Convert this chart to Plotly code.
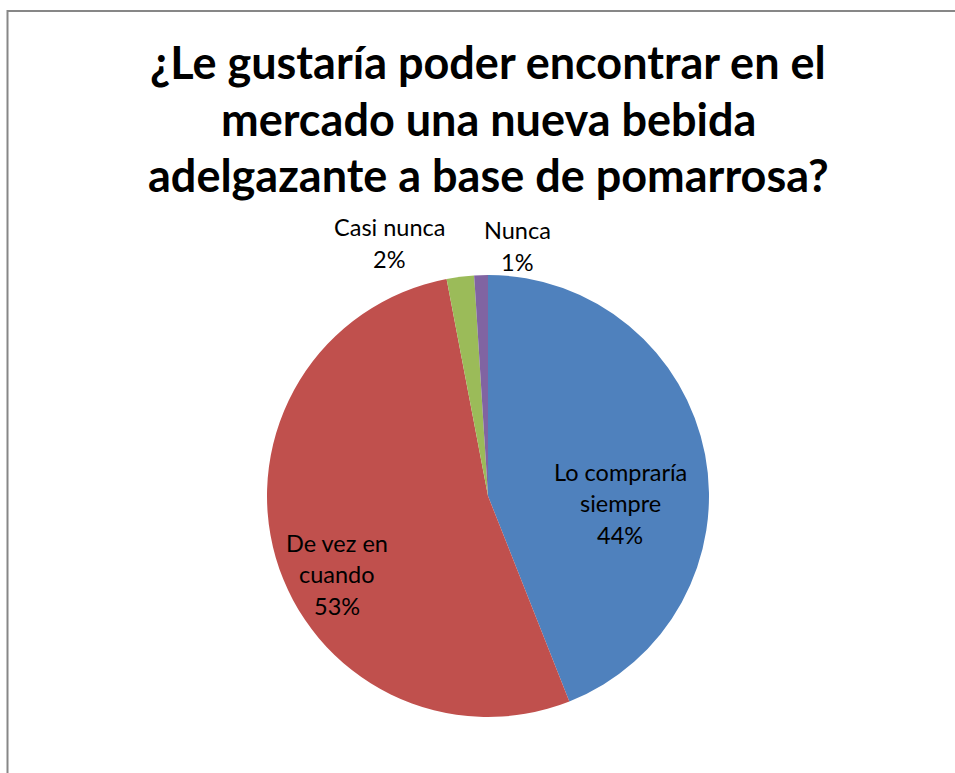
import plotly.graph_objects as go

# Survey answers and their shares (%)
categories = ["Lo compraría siempre", "De vez en cuando", "Casi nunca", "Nunca"]
values = [44, 53, 2, 1]
colors = ["#4F81BD", "#C0504D", "#9BBB59", "#8064A2"]

title_lines = [
    "¿Le gustaría poder encontrar en el",
    "mercado una nueva bebida",
    "adelgazante a base de pomarrosa?",
]

# Label text wrapping and placement (pixel centres on a 955x773 canvas)
label_lines = [["Lo compraría", "siempre"], ["De vez en", "cuando"], ["Casi nunca"], ["Nunca"]]
label_centres = [(620, 503), (337, 574), (389, 243), (517, 246)]

W, H = 955, 773
cx, cy, r = 488, 496, 221
LINE_GAP = 31.5
TITLE_TOP, TITLE_GAP = 62, 56.5


def py2paper(py):
    return 1 - py / H


fig = go.Figure(
    go.Pie(
        labels=categories,
        values=values,
        marker=dict(colors=colors, line=dict(width=0)),
        sort=False,
        direction="clockwise",
        rotation=0,
        textinfo="none",
        hoverinfo="label+percent",
        showlegend=False,
        domain=dict(x=[(cx - r) / W, (cx + r) / W], y=[py2paper(cy + r), py2paper(cy - r)]),
    )
)

total = sum(values)
annotations = []
for name_lines, v, (lx, ly) in zip(label_lines, values, label_centres):
    lines = name_lines + [f"{round(100 * v / total)}%"]
    n = len(lines)
    for i, txt in enumerate(lines):
        annotations.append(dict(
            text=txt, x=lx / W, y=py2paper(ly + (i - (n - 1) / 2) * LINE_GAP),
            xref="paper", yref="paper", xanchor="center", yanchor="middle",
            showarrow=False, font=dict(family="Lato", size=23.5, color="#000000"),
        ))

for i, txt in enumerate(title_lines):
    annotations.append(dict(
        text=f"<b>{txt}</b>", x=488 / W, y=py2paper(TITLE_TOP + i * TITLE_GAP),
        xref="paper", yref="paper", xanchor="center", yanchor="middle",
        showarrow=False, font=dict(family="Lato", size=45, color="#000000"),
    ))

fig.update_layout(
    width=W, height=H,
    margin=dict(l=0, r=0, t=0, b=0),
    paper_bgcolor="white", plot_bgcolor="white",
    annotations=annotations,
    shapes=[dict(type="rect", xref="paper", yref="paper",
                 x0=7.5 / W, x1=1.05, y0=-0.05, y1=py2paper(11),
                 line=dict(color="#878787", width=2), fillcolor="rgba(0,0,0,0)")],
)

fig.write_html("out.html")
